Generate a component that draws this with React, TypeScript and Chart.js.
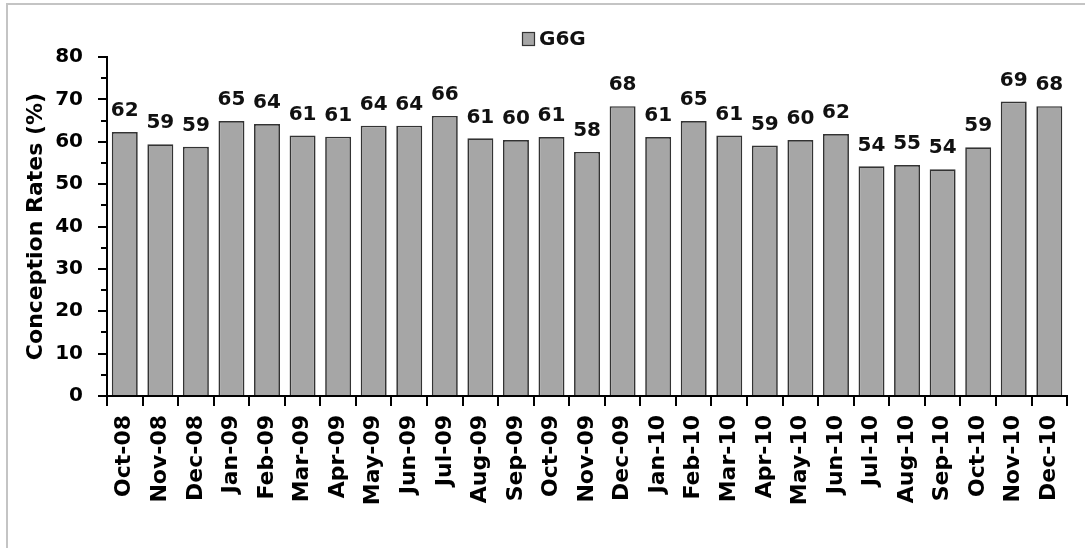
import { useEffect, useRef } from 'react';
import { Chart, registerables } from 'chart.js';

Chart.register(...registerables);

const months = [
  'Oct-08', 'Nov-08', 'Dec-08', 'Jan-09', 'Feb-09', 'Mar-09', 'Apr-09', 'May-09', 'Jun-09',
  'Jul-09', 'Aug-09', 'Sep-09', 'Oct-09', 'Nov-09', 'Dec-09', 'Jan-10', 'Feb-10', 'Mar-10',
  'Apr-10', 'May-10', 'Jun-10', 'Jul-10', 'Aug-10', 'Sep-10', 'Oct-10', 'Nov-10', 'Dec-10',
];

const rates = [
  62.3, 59.4, 58.8, 64.9, 64.2, 61.5, 61.2, 63.8, 63.8,
  66.1, 60.8, 60.4, 61.1, 57.6, 68.4, 61.1, 64.9, 61.5,
  59.1, 60.4, 61.8, 54.2, 54.5, 53.5, 58.7, 69.5, 68.4,
];

const rateLabels = [
  '62', '59', '59', '65', '64', '61', '61', '64', '64',
  '66', '61', '60', '61', '58', '68', '61', '65', '61',
  '59', '60', '62', '54', '55', '54', '59', '69', '68',
];

const minorTicks = [5, 15, 25, 35, 45, 55, 65, 75];

const seriesName = 'G6G';
const yTitle = 'Conception Rates (%)';

const BAR_FILL = '#a6a6a6';
const BAR_EDGE = '#333333';
const FONT = "'DejaVu Sans', sans-serif";

const decorPlugin = {
  id: 'decor',
  beforeDraw(chart: any) {
    const { ctx, width, height } = chart;
    ctx.save();
    ctx.fillStyle = '#ffffff';
    ctx.fillRect(0, 0, width, height);
    ctx.strokeStyle = '#c4c4c4';
    ctx.lineWidth = 2;
    ctx.beginPath();
    ctx.moveTo(7, height);
    ctx.lineTo(7, 4);
    ctx.lineTo(width, 4);
    ctx.stroke();
    ctx.restore();
  },
  afterDraw(chart: any) {
    const { ctx } = chart;
    const yScale = chart.scales.y;
    const meta = chart.getDatasetMeta(0);
    ctx.save();
    // minor ticks
    ctx.strokeStyle = '#000';
    ctx.lineWidth = 2;
    const ax = chart.chartArea.left;
    minorTicks.forEach((v) => {
      const py = Math.round(yScale.getPixelForValue(v));
      ctx.beginPath();
      ctx.moveTo(ax - 6, py);
      ctx.lineTo(ax, py);
      ctx.stroke();
    });
    // data labels
    ctx.fillStyle = '#111';
    ctx.font = `bold 20px ${FONT}`;
    ctx.textAlign = 'center';
    ctx.textBaseline = 'bottom';
    meta.data.forEach((bar: any, i: number) => {
      ctx.fillText(rateLabels[i], bar.x, bar.y - 11);
    });
    // legend
    const lx = 522;
    const ly = 32;
    ctx.fillStyle = BAR_FILL;
    ctx.fillRect(lx, ly, 13, 14);
    ctx.strokeStyle = BAR_EDGE;
    ctx.lineWidth = 1.2;
    ctx.strokeRect(lx + 0.5, ly + 0.5, 12, 13);
    ctx.fillStyle = '#111';
    ctx.font = `bold 20px ${FONT}`;
    ctx.textAlign = 'left';
    ctx.textBaseline = 'middle';
    ctx.fillText(seriesName, 539, 40);
    ctx.restore();
  },
};

export default function App() {
  const canvasRef = useRef<HTMLCanvasElement | null>(null);

  useEffect(() => {
    const canvas = canvasRef.current;
    if (!canvas) return;
    const chart = new Chart(canvas, {
      type: 'bar',
      data: {
        labels: months,
        datasets: [
          {
            label: seriesName,
            data: rates,
            backgroundColor: BAR_FILL,
            borderColor: BAR_EDGE,
            borderWidth: 1.7,
            categoryPercentage: 1,
            barPercentage: 0.73,
          },
        ],
      },
      options: {
        animation: false,
        responsive: false,
        maintainAspectRatio: false,
        layout: { padding: { left: 23, top: 57, right: 16, bottom: 0 } },
        plugins: {
          legend: { display: false },
          tooltip: { enabled: false },
        },
        scales: {
          x: {
            offset: true,
            grid: {
              display: true,
              offset: true,
              drawOnChartArea: false,
              drawTicks: true,
              tickLength: 10,
              color: '#000',
              lineWidth: 2,
            },
            border: { display: true, color: '#000', width: 2 },
            ticks: {
              autoSkip: false,
              maxRotation: 90,
              minRotation: 90,
              padding: 9,
              color: '#000',
              font: { family: FONT, weight: 'bold', size: 22 },
            },
            afterFit(scale: any) {
              scale.height = 152;
            },
          },
          y: {
            min: 0,
            max: 80,
            ticks: {
              stepSize: 10,
              padding: 15,
              color: '#000',
              font: { family: FONT, weight: 'bold', size: 20 },
            },
            grid: {
              display: true,
              drawOnChartArea: false,
              drawTicks: true,
              tickLength: 9,
              color: '#000',
              lineWidth: 2,
            },
            border: { display: true, color: '#000', width: 2 },
            title: {
              display: true,
              text: yTitle,
              color: '#000',
              padding: { top: 0, bottom: 0 },
              font: { family: FONT, weight: 'bold', size: 22 },
            },
            afterFit(scale: any) {
              scale.width = 84;
            },
          },
        },
      },
      plugins: [decorPlugin],
    });
    return () => chart.destroy();
  }, []);

  return (
    <div style={{ position: 'fixed', left: 0, top: 0, width: 1085, height: 548, background: '#fff' }}>
      <canvas ref={canvasRef} width={1085} height={548} style={{ display: 'block', width: 1085, height: 548 }} />
    </div>
  );
}
